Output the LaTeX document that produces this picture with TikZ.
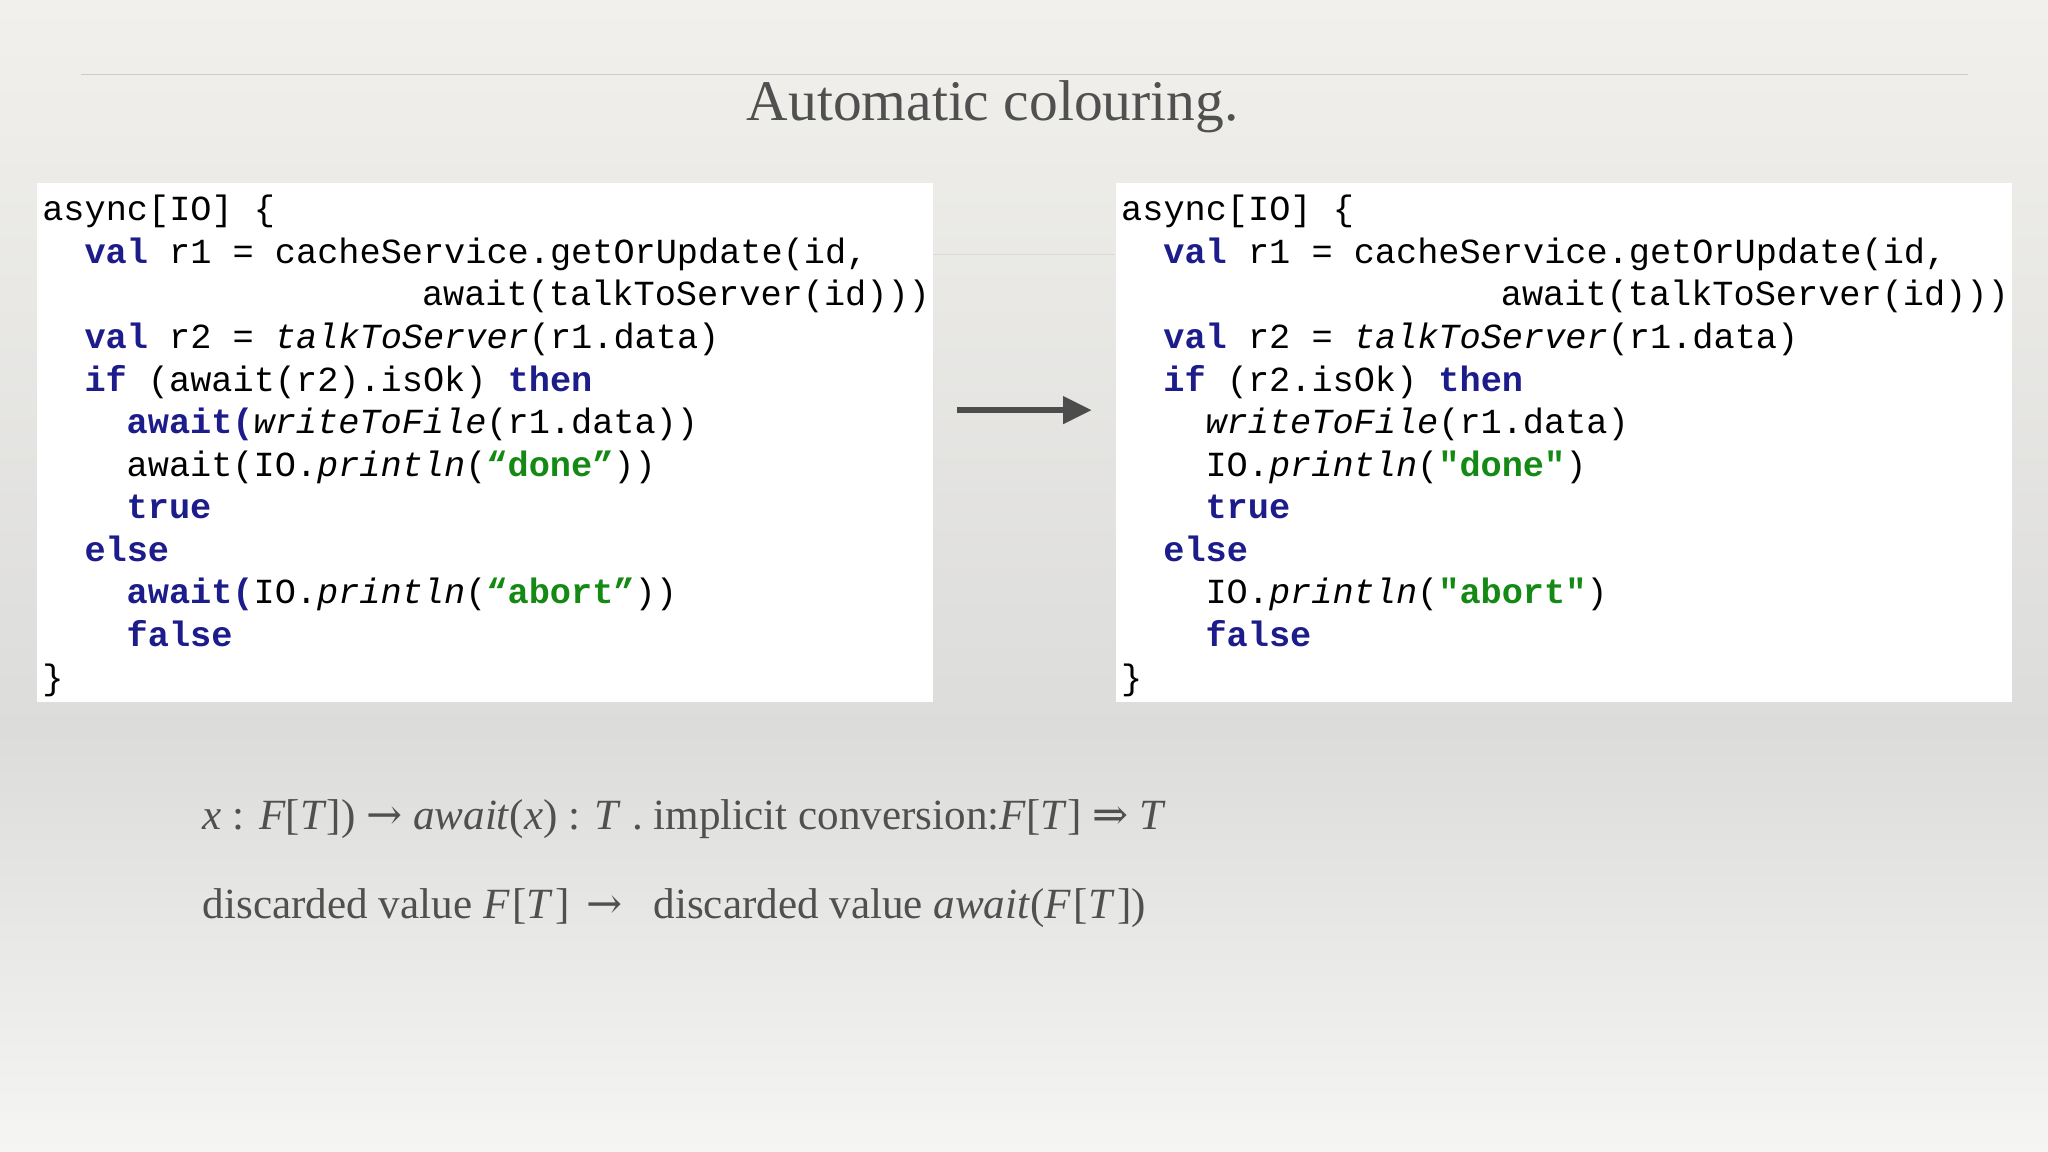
\documentclass[tikz,border=0pt]{standalone}
\usepackage{fontspec}
\usetikzlibrary{arrows.meta}
\setmainfont{Liberation Serif}
\newfontfamily\cf{Liberation Mono}
\newfontfamily\arr{DejaVu Serif}
\definecolor{kwc}{HTML}{1C1C8A}
\definecolor{stc}{HTML}{148A14}
\definecolor{txc}{HTML}{505050}
\definecolor{bgtop}{HTML}{F1F0EC}
\definecolor{bgmid}{HTML}{DCDCDB}
\definecolor{bgbot}{HTML}{F5F5F4}
\newcommand{\kw}[1]{\textcolor{kwc}{\bfseries #1}}
\newcommand{\st}[1]{\textcolor{stc}{\bfseries #1}}
\newcommand{\fn}[1]{\textit{#1}}
\begin{document}
\begin{tikzpicture}[x=0.5pt,y=-0.5pt,
  code/.style={anchor=base west,inner sep=0pt,font=\cf\fontsize{13.5}{14}\selectfont},
  mtext/.style={anchor=base west,inner sep=0pt,text=txc,font=\fontsize{16.5}{18}\selectfont},
  box/.style={fill=white,draw=none}]
\useasboundingbox (0,0) rectangle (1568,882);
\shade[top color=bgtop, bottom color=bgmid] (0,0) rectangle (1568,560);
\shade[top color=bgmid, bottom color=bgbot] (0,560) rectangle (1568,882);
\draw[gray!40,line width=0.5pt] (62,57) -- (1507,57);
\draw[gray!30,line width=0.4pt] (714,195) -- (854,195);
\node[text=txc,font=\fontsize{22}{26}\selectfont] (title) at (760,82) {Automatic colouring.};
\node[box,anchor=north west,minimum width=343pt,minimum height=198.5pt,inner sep=0pt] (L) at (28,140) {};
\node[box,anchor=north west,minimum width=343pt,minimum height=198.5pt,inner sep=0pt] (R) at (854,140) {};
\coordinate (a1) at (733,314); \coordinate (a2) at (836,314);
\draw[line width=2.4pt,draw=black!70,-{Triangle[length=11pt,width=10pt]}] (a1) -- (a2);
\def\c{16.15}
\foreach \x/\side in {32/L,858/R}{
 \node[code] (\side1) at (\x,169) {async[IO] \{};
 \node[code] (\side2) at (\x+2*\c,201.6) {\kw{val} r1 = cacheService.getOrUpdate(id,};
 \node[code] (\side3) at (\x+18*\c,234.2) {await(talkToServer(id)))};
 \node[code] (\side4) at (\x+2*\c,266.8) {\kw{val} r2 = \fn{talkToServer}(r1.data)};
 \node[code] (\side8) at (\x+4*\c,397.2) {\kw{true}};
 \node[code] (\side9) at (\x+2*\c,429.8) {\kw{else}};
 \node[code] (\side11) at (\x+4*\c,495) {\kw{false}};
 \node[code] (\side12) at (\x,527.6) {\}};
}
\node[code] (L5) at (32+2*\c,299.4) {\kw{if} (await(r2).isOk) \kw{then}};
\node[code] (L6) at (32+4*\c,332) {\kw{await(}\fn{writeToFile}(r1.data))};
\node[code] (L7) at (32+4*\c,364.6) {await(IO.\fn{println}(\st{“done”}))};
\node[code] (L10) at (32+4*\c,462.4) {\kw{await(}IO.\fn{println}(\st{“abort”}))};
\node[code] (R5) at (858+2*\c,299.4) {\kw{if} (r2.isOk) \kw{then}};
\node[code] (R6) at (858+4*\c,332) {\fn{writeToFile}(r1.data)};
\node[code] (R7) at (858+4*\c,364.6) {IO.\fn{println}(\st{"done"})};
\node[code] (R10) at (858+4*\c,462.4) {IO.\fn{println}(\st{"abort"})};
\node[mtext] (m1) at (155,635) {\textit{x} : \textit{F}[\textit{T}]) {\arr →} \textit{await}(\textit{x}) : \textit{T} . implicit conversion:\textit{F}[\textit{T}] {\arr ⇒} \textit{T}};
\node[mtext] (m2) at (155,703) {discarded value \textit{F}\kern1pt[\textit{T}\kern1pt] \kern2pt{\arr →}\hspace{12pt}discarded value \textit{await}(\textit{F}\kern1pt[\textit{T}\kern1pt])};
\end{tikzpicture}
\end{document}
